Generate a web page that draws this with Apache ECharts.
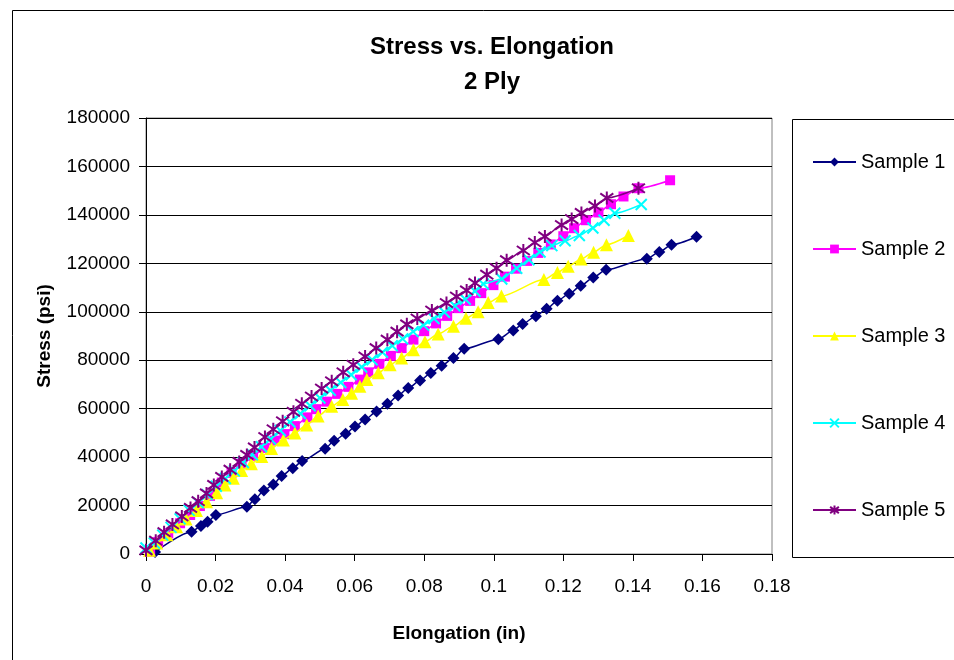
<!DOCTYPE html>
<html>
<head>
<meta charset="utf-8">
<script src="https://cdn.jsdelivr.net/npm/echarts@6/dist/echarts.min.js"></script>
<style>
html,body{margin:0;padding:0;background:#fff;}
#chart{width:954px;height:660px;}
</style>
</head>
<body>
<div id="chart"></div>
<script>
// ---- Data ----
var titleText = "Stress vs. Elongation";
var subtitleText = "2 Ply";
var xAxisName = "Elongation (in)";
var yAxisName = "Stress (psi)";
var seriesNames = ["Sample 1", "Sample 2", "Sample 3", "Sample 4", "Sample 5"];

var x1 = [0.0026, 0.0131, 0.0158, 0.0177, 0.0201, 0.029, 0.0313, 0.0339, 0.0366, 0.039, 0.0422, 0.0449, 0.0515, 0.0541, 0.0574, 0.0601, 0.063, 0.0663, 0.0694, 0.0725, 0.0754, 0.0788, 0.0819, 0.085, 0.0884, 0.0915, 0.1013, 0.1056, 0.1083, 0.1121, 0.1152, 0.1183, 0.1217, 0.125, 0.1286, 0.1323, 0.144, 0.1476, 0.1511, 0.1583];
var y1 = [800, 9200, 11600, 13300, 16100, 19500, 22600, 26200, 28700, 32200, 35400, 38400, 43500, 46800, 49600, 52600, 55500, 58800, 62000, 65400, 68500, 71600, 74700, 77700, 80900, 84700, 88700, 92300, 95000, 98200, 101200, 104600, 107400, 110700, 114200, 117300, 121900, 124700, 127700, 131000];

var x2 = [0.0012, 0.0035, 0.0064, 0.0098, 0.0127, 0.0155, 0.0184, 0.0218, 0.0246, 0.0275, 0.0308, 0.034, 0.037, 0.0398, 0.0428, 0.0464, 0.0489, 0.052, 0.055, 0.0582, 0.0615, 0.0639, 0.0671, 0.0704, 0.0735, 0.0769, 0.08, 0.0834, 0.0866, 0.0898, 0.0932, 0.0964, 0.0999, 0.1032, 0.1064, 0.1096, 0.1128, 0.1164, 0.12, 0.1231, 0.1265, 0.1301, 0.1337, 0.1373, 0.1416, 0.1507];
var y2 = [1000, 5000, 8500, 12700, 16100, 19800, 24000, 29500, 33500, 37300, 40500, 43800, 46800, 49500, 52800, 56400, 59800, 62900, 66100, 69000, 72000, 75000, 78500, 81800, 85000, 88500, 92000, 95200, 98300, 101500, 104500, 107700, 111000, 114500, 117800, 121000, 124300, 127800, 131200, 134500, 137800, 141000, 144400, 147600, 151000, 154300];

var x3 = [0.001, 0.0031, 0.006, 0.0088, 0.0115, 0.0145, 0.0174, 0.0203, 0.0227, 0.0251, 0.0275, 0.0303, 0.0333, 0.0361, 0.0395, 0.0428, 0.0462, 0.0495, 0.0534, 0.0566, 0.0591, 0.0615, 0.0635, 0.0668, 0.0702, 0.0735, 0.0769, 0.0802, 0.084, 0.0884, 0.092, 0.0955, 0.0984, 0.1022, 0.1144, 0.1183, 0.1214, 0.1251, 0.1287, 0.1324, 0.1387];
var y3 = [1500, 4500, 7900, 11300, 14500, 18000, 21600, 25300, 28500, 31300, 34500, 37300, 40300, 43600, 47100, 50000, 53300, 57000, 61000, 63800, 66400, 69300, 72000, 74800, 78100, 80900, 84300, 87600, 90800, 94000, 97300, 100000, 103800, 106500, 113300, 116200, 118800, 121800, 124600, 127700, 131500];

var x4 = [0, 0.0024, 0.0048, 0.0072, 0.0098, 0.0124, 0.015, 0.0176, 0.0202, 0.0228, 0.0254, 0.028, 0.0306, 0.0332, 0.0358, 0.0386, 0.0414, 0.0444, 0.0472, 0.05, 0.053, 0.056, 0.059, 0.062, 0.065, 0.068, 0.0708, 0.0738, 0.0768, 0.0798, 0.0828, 0.0858, 0.0888, 0.0918, 0.0946, 0.097, 0.1023, 0.1066, 0.1101, 0.1133, 0.1167, 0.1205, 0.1246, 0.1285, 0.1317, 0.1348, 0.1424];
var y4 = [2500, 4500, 7800, 11000, 14500, 18000, 21200, 24500, 28000, 31200, 34300, 37800, 41000, 44300, 47500, 51000, 54500, 58000, 61200, 64400, 67600, 70800, 74000, 77200, 80200, 83300, 86000, 88800, 91800, 94500, 97200, 99800, 102500, 105200, 108500, 111500, 113500, 118000, 121500, 124700, 127300, 129300, 131500, 134600, 137800, 140700, 144300];

var x5 = [0, 0.0028, 0.0052, 0.0076, 0.0103, 0.0128, 0.015, 0.0174, 0.0195, 0.0218, 0.0242, 0.0268, 0.029, 0.0312, 0.0342, 0.0366, 0.0393, 0.0424, 0.0448, 0.0476, 0.0505, 0.0534, 0.0567, 0.0596, 0.063, 0.0662, 0.0694, 0.0722, 0.075, 0.078, 0.0822, 0.0864, 0.0893, 0.0922, 0.0946, 0.098, 0.1008, 0.1037, 0.1085, 0.1118, 0.1147, 0.1195, 0.1224, 0.1252, 0.1291, 0.1325, 0.1416];
var y5 = [1500, 5500, 9000, 12200, 15500, 19000, 21800, 25000, 28500, 31800, 34800, 38000, 40900, 44000, 48300, 51500, 54800, 58700, 62000, 65000, 68300, 71300, 75000, 78100, 81500, 85000, 88500, 91800, 94800, 97200, 100500, 103600, 106300, 108800, 111900, 115300, 118000, 121300, 125300, 128600, 131100, 135800, 138300, 140800, 143700, 147000, 151000];

var xTicks = [0, 0.02, 0.04, 0.06, 0.08, 0.1, 0.12, 0.14, 0.16, 0.18];
var yTicks = [0, 20000, 40000, 60000, 80000, 100000, 120000, 140000, 160000, 180000];

// ---- Build ----
function pairs(xs, ys) { return xs.map(function (x, i) { return [x, ys[i]]; }); }

var FONT = "'Liberation Sans', Arial, sans-serif";
var colors = ["#000080", "#FF00FF", "#FFFF00", "#00FFFF", "#800080"];
var symbols = [
  "diamond",
  "rect",
  "triangle",
  "path://M0,0 L10,10 M10,0 L0,10",
  "path://M5,0 L5,10 M0,1.5 L10,8.5 M0,8.5 L10,1.5"
];
var symbolSizes = [12, 10, 13, 11, 13];
var datasets = [pairs(x1, y1), pairs(x2, y2), pairs(x3, y3), pairs(x4, y4), pairs(x5, y5)];

var series = datasets.map(function (d, i) {
  var isPath = symbols[i].indexOf("path://") === 0;
  return {
    name: seriesNames[i],
    type: "line",
    data: d,
    smooth: 0.25,
    smoothMonotone: "x",
    symbol: symbols[i],
    symbolSize: symbolSizes[i],
    showAllSymbol: true,
    lineStyle: { color: colors[i], width: 1.5 },
    itemStyle: isPath
      ? { color: colors[i], borderColor: colors[i], borderWidth: 2 }
      : { color: colors[i], borderColor: colors[i], borderWidth: 0 },
    emphasis: { disabled: true },
    animation: false,
    z: 2 + i
  };
});

var chart = echarts.init(document.getElementById("chart"), null, { renderer: "canvas" });
chart.setOption({
  animation: false,
  backgroundColor: "#ffffff",
  textStyle: { fontFamily: FONT },
  title: {
    text: titleText + "\n" + subtitleText,
    left: 487,
    top: 25,
    textAlign: "center",
    textStyle: { fontFamily: FONT, fontSize: 24, fontWeight: "bold", color: "#000", lineHeight: 35 }
  },
  grid: {
    left: 146, top: 118, width: 626, height: 436,
    show: true, borderColor: "#808080", borderWidth: 1, backgroundColor: "#ffffff"
  },
  legend: {
    orient: "vertical",
    left: 812,
    top: 152,
    padding: 0,
    itemWidth: 43,
    itemHeight: 11,
    itemGap: 67,
    data: seriesNames,
    textStyle: { fontFamily: FONT, fontSize: 20, color: "#000", lineHeight: 20 },
    selectedMode: false
  },
  xAxis: {
    type: "value",
    min: xTicks[0],
    max: xTicks[xTicks.length - 1],
    interval: xTicks[1] - xTicks[0],
    name: xAxisName,
    nameLocation: "middle",
    nameGap: 70,
    nameTextStyle: { fontFamily: FONT, fontSize: 19, fontWeight: "bold", color: "#000" },
    axisLine: { show: true, lineStyle: { color: "#000", width: 1 } },
    axisTick: { show: true, inside: false, length: 7, lineStyle: { color: "#000" } },
    axisLabel: { fontFamily: FONT, fontSize: 19, color: "#000", margin: 23,
      formatter: function (v) { return String(parseFloat(v.toFixed(2))); } },
    splitLine: { show: false }
  },
  yAxis: {
    type: "value",
    min: yTicks[0],
    max: yTicks[yTicks.length - 1],
    interval: yTicks[1] - yTicks[0],
    name: yAxisName,
    nameLocation: "middle",
    nameGap: 92,
    nameRotate: 90,
    nameTextStyle: { fontFamily: FONT, fontSize: 19, fontWeight: "bold", color: "#000" },
    axisLine: { show: true, lineStyle: { color: "#000", width: 1 } },
    axisTick: { show: true, inside: false, length: 7, lineStyle: { color: "#000" } },
    axisLabel: { fontFamily: FONT, fontSize: 19, color: "#000", margin: 16,
      formatter: function (v) { return String(v); } },
    splitLine: { show: true, lineStyle: { color: "#000", width: 1 } }
  },
  graphic: [
    { type: "rect", left: 10, top: 8, shape: { width: 1000, height: 700 },
      style: { fill: "none", stroke: "#000", lineWidth: 1 }, silent: true, z: -1 },
    { type: "rect", left: 790, top: 117, shape: { width: 200, height: 438 },
      style: { fill: "none", stroke: "#000", lineWidth: 1 }, silent: true, z: -1 }
  ],
  series: series
});
</script>
</body>
</html>
